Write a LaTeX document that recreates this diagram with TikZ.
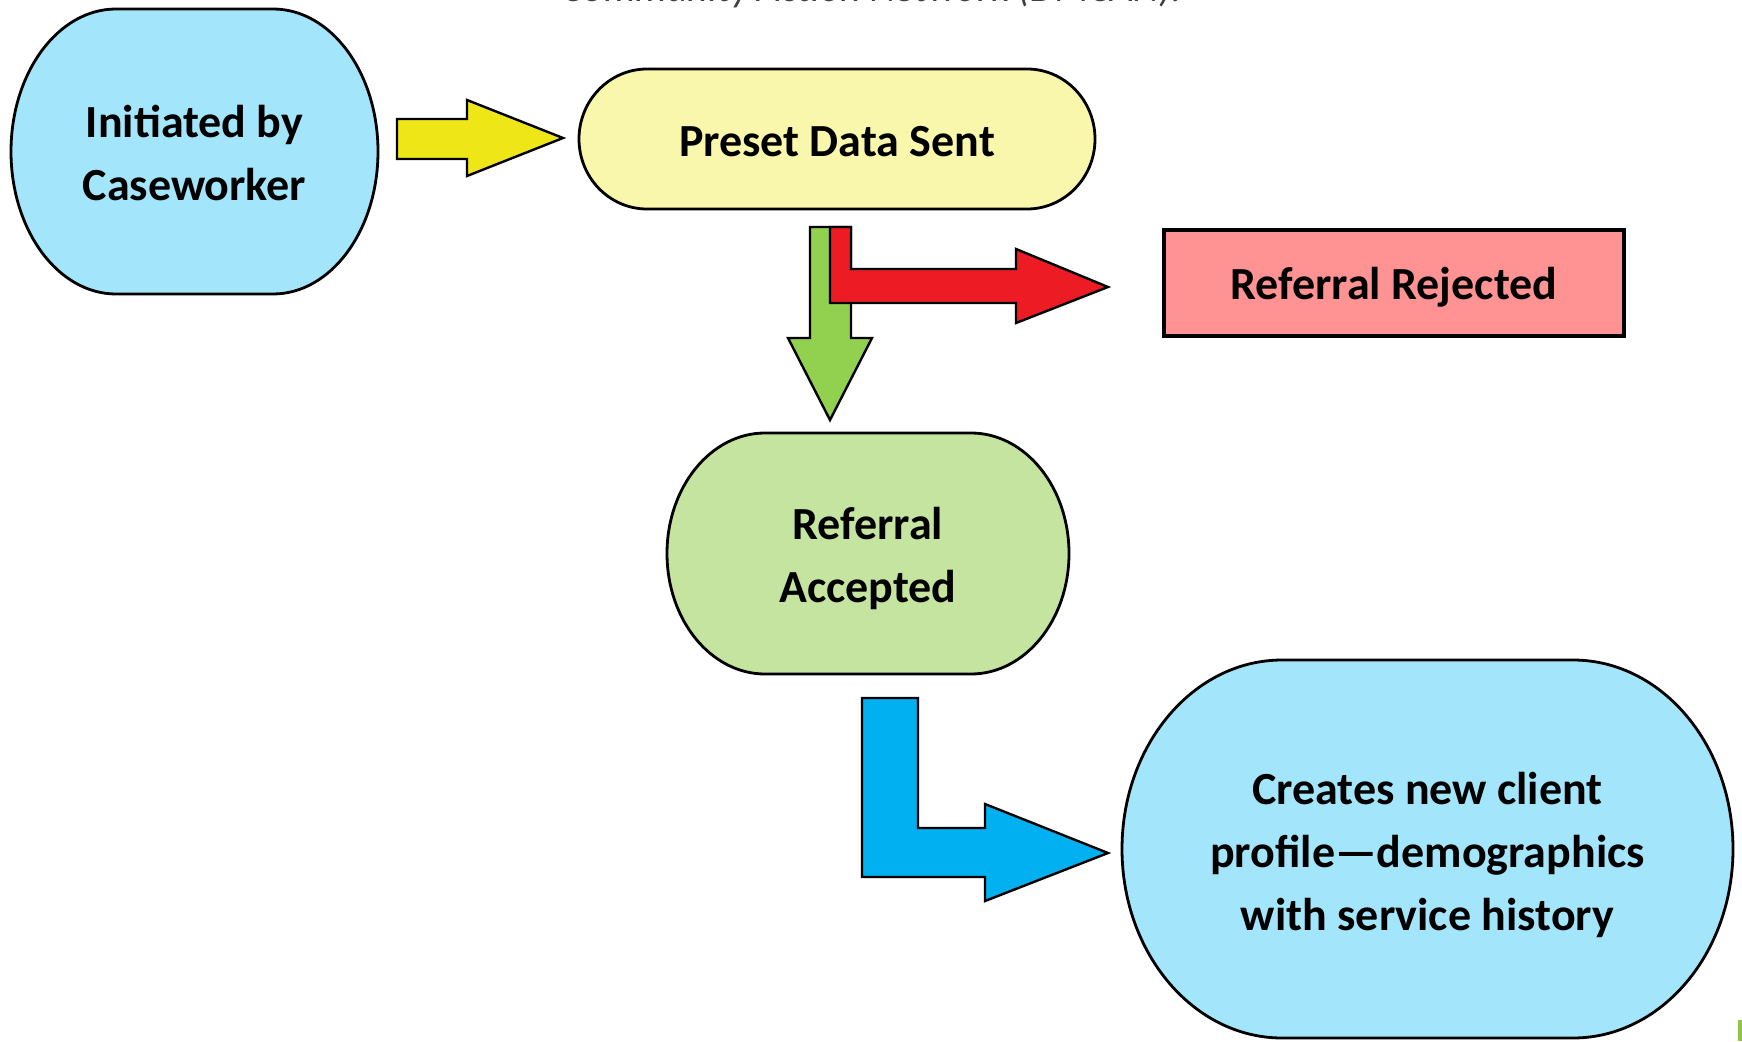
\documentclass[tikz,border=0pt]{standalone}
\usepackage{fontspec}
\setmainfont{Carlito}
\definecolor{nodeblue}{HTML}{A3E5FB}
\definecolor{nodeyellow}{HTML}{F9F7AB}
\definecolor{nodegreen}{HTML}{C5E4A0}
\definecolor{nodepink}{HTML}{FF9393}
\definecolor{arryellow}{HTML}{EEE617}
\definecolor{arrgreen}{HTML}{92D050}
\definecolor{arrred}{HTML}{ED1C24}
\definecolor{arrblue}{HTML}{00B0F0}
\definecolor{slidegreen}{HTML}{8DC63F}
\tikzset{
  txt/.style={align=center, font=\fontsize{46}{63}\selectfont\bfseries, text=black, inner sep=0pt},
  shapeline/.style={draw=black, line width=2.8pt},
  blockarrow/.style={draw=black, line width=2.4pt, line join=miter},
}
% name, left, top, right, bottom, x radius, fill, text offset, text
\newcommand\termnode[9]{%
  \pgfmathsetmacro\termry{(#5-#3)/2}%
  \filldraw[shapeline, fill=#7] ({#2+#6},{-#3}) -- ({#4-#6},{-#3})
    arc[start angle=90, end angle=-90, x radius=#6pt, y radius=\termry pt]
    -- ({#2+#6},{-#5})
    arc[start angle=270, end angle=90, x radius=#6pt, y radius=\termry pt] -- cycle;
  \node[txt] (#1) at ({(#2+#4)/2},{-(#3+#5)/2-#8}) {#9};%
}
\begin{document}
\begin{tikzpicture}[x=1pt, y=1pt]
\useasboundingbox (0,0) rectangle (1742,-1041);
\clip (0,0) rectangle (1742,-1041);
\fill[white] (0,0) rectangle (1742,-1041);

% cut-off caption line at the top
\node[anchor=base, inner sep=0pt, text=black!75, font=\fontsize{40}{48}\selectfont\itshape] (caption) at (872,-2) {Community Action Network (DMCAN).};

% nodes
\termnode{init}{11}{9}{378}{294}{105}{nodeblue}{1}{Initiated by\\Caseworker}
\termnode{preset}{579}{69}{1095}{209}{68}{nodeyellow}{3}{Preset Data Sent}
\termnode{accepted}{667}{433}{1069}{674}{98}{nodegreen}{5}{Referral\\Accepted}
\termnode{creates}{1122}{660}{1733}{1038}{160}{nodeblue}{6}{Creates new client\\profile---demographics\\with service history}
\node[draw=black, line width=3.4pt, fill=nodepink, minimum width=460pt, minimum height=106pt, inner sep=0pt] (rejected) at (1394,-283) {};
\node[txt] (rejectedtext) at (1394,-287) {Referral Rejected};

% block arrows
\filldraw[blockarrow, fill=arryellow] (397,-119) -- (467,-119) -- (467,-100) -- (563,-138) -- (467,-176) -- (467,-159) -- (397,-159) -- cycle;
\filldraw[blockarrow, fill=arrgreen] (810,-227) -- (851,-227) -- (851,-338) -- (872,-338) -- (830,-420) -- (788,-338) -- (810,-338) -- cycle;
\filldraw[blockarrow, fill=arrred] (830,-227) -- (851,-227) -- (851,-269) -- (1016,-269) -- (1016,-249) -- (1108,-287) -- (1016,-323) -- (1016,-303) -- (830,-303) -- cycle;
\filldraw[blockarrow, fill=arrblue] (862,-698) -- (918,-698) -- (918,-828) -- (985,-828) -- (985,-804) -- (1108,-853) -- (985,-901) -- (985,-877) -- (862,-877) -- cycle;

% slide edge mark
\fill[slidegreen] (1738,-1020) rectangle (1742,-1041);
\end{tikzpicture}
\end{document}
